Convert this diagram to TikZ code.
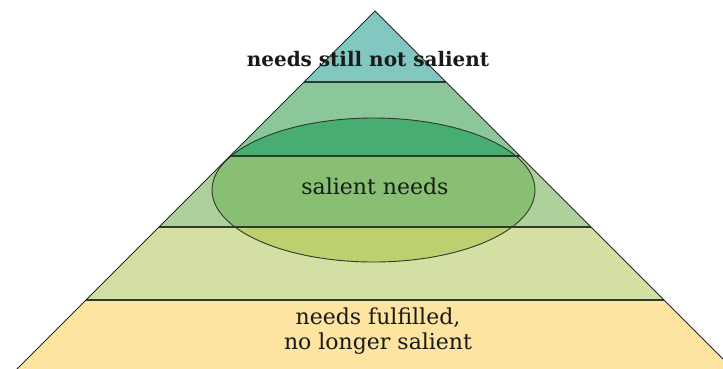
\documentclass[tikz,border=0pt]{standalone}
\usepackage{fontspec}
\setmainfont{DejaVu Serif}
\definecolor{cTop}{HTML}{82C8C0}
\definecolor{cB2}{HTML}{8CC79A}
\definecolor{cB2in}{HTML}{47AD71}
\definecolor{cB3}{HTML}{AED09A}
\definecolor{cB3in}{HTML}{88BF73}
\definecolor{cB4}{HTML}{D4DFA3}
\definecolor{cB4in}{HTML}{BDD06F}
\definecolor{cBase}{HTML}{FDE4A0}
\definecolor{cLine}{HTML}{2E3A2E}
\tikzset{
  sepline/.style={draw=cLine,line width=1.3pt},
  edgeline/.style={draw=black!85,line width=0.9pt},
  lbl/.style={inner sep=0pt,align=center,text=black!90,font=\fontsize{22}{25}\selectfont}
}
\begin{document}
\begin{tikzpicture}[x=1pt,y=-1pt]
\useasboundingbox (0,0) rectangle (723,368);
\clip (0,0) rectangle (723,368);
% corner points of the pyramid
\coordinate (apex) at (375,11);
\coordinate (bl) at (-10,396);
\coordinate (br) at (760,396);
\coordinate (l1) at (304,82);  \coordinate (r1) at (446,82);
\coordinate (l2) at (230,156); \coordinate (r2) at (520,156);
\coordinate (l3) at (159,227); \coordinate (r3) at (591,227);
\coordinate (l4) at (86,300);  \coordinate (r4) at (664,300);
\begin{scope}
  \clip (apex) -- (bl) -- (br) -- cycle;
  \fill[cTop] (0,0) rectangle (723,82);
  \fill[cB2] (0,82) rectangle (723,156);
  \fill[cB3] (0,156) rectangle (723,227);
  \fill[cB4] (0,227) rectangle (723,300);
  \fill[cBase] (0,300) rectangle (723,400);
  \begin{scope}
    \clip (373.5,190) ellipse [x radius=161.5, y radius=72];
    \fill[cB2in] (0,82) rectangle (723,156);
    \fill[cB3in] (0,156) rectangle (723,227);
    \fill[cB4in] (0,227) rectangle (723,300);
  \end{scope}
\end{scope}
\draw[draw=cLine,line width=0.9pt] (373.5,190) ellipse [x radius=161.5, y radius=72];
\draw[sepline] (l1) -- (r1);
\draw[sepline] (l2) -- (r2);
\draw[sepline] (l3) -- (r3);
\draw[sepline] (l4) -- (r4);
\draw[edgeline] (bl) -- (apex) -- (br);
\node[lbl,font=\bfseries\fontsize{20}{24}\selectfont] (top) at (368,59) {needs still not salient};
\node[lbl] (mid) at (375,186) {salient needs};
\node[lbl] (base) at (378,331) {needs fulfilled,\\no longer salient};
\end{tikzpicture}
\end{document}
